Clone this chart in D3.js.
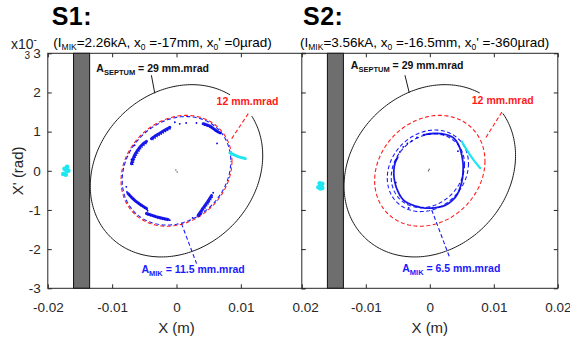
<!DOCTYPE html>
<html>
<head>
<meta charset="utf-8">
<script src="https://cdn.jsdelivr.net/npm/d3@7/dist/d3.min.js"></script>
<style>
  body { margin: 0; background: #fff; }
  text { font-family: "Liberation Sans", Arial, sans-serif; }
</style>
</head>
<body>
<div id="chart"></div>
<script>
// axis ticks (x in mm, x' in mrad)
const xTicks = [-20, -10, 0, 10, 20];
const xTickLabels = ["-0.02", "-0.01", "0", "0.01", "0.02"];
const yTicks = [-3, -2, -1, 0, 1, 2, 3];
const yTickLabels = ["-3", "-2", "-1", "0", "1", "2", "3"];

// panel titles
const panelNames = ["S1:", "S2:"];
const mikCurrent = ["2.26kA", "3.56kA"];
const injX = ["-17mm", "-16.5mm"];
const injXp = ["0µrad", "-360µrad"];

// Twiss at the septum, emittances (mm.mrad)
const betaX = 6.19;
const alphaX = -0.18;
const septumEmit = 29;
const acceptEmit = 12;
const mikEmit = [[11.5], [6.5, 5.3]];
const mikCentre = [[0, 0], [-0.3, 0]];
const mikText = ["11.5", "6.5"];
const septumGap = [[-0.90, -0.51], [-0.95, -0.55]]; // phase gap left for the label
const septumBlade = [-16, -13.5]; // mm

// injected beam (cyan)
const injBlob = [
  [[-17.6, -0.08], [-17.4, 0.05], [-17.0, 0.1], [-16.8, 0.0], [-17.2, -0.1], [-17.1, 0.0]],
  [[-17.4, -0.42], [-17.2, -0.32], [-16.8, -0.33], [-16.8, -0.44], [-17.1, -0.45], [-17.0, -0.38]]
];
const injStreak = [
  [[8.3, 0.46], [8.8, 0.42], [9.3, 0.38], [9.8, 0.35], [10.3, 0.33], [10.7, 0.31]],
  [[5.0, 0.75], [5.6, 0.58], [6.3, 0.40], [7.0, 0.24], [7.86, 0.07]]
];

// stored beam (blue) after the kick
const storedStreaks = [
  [
    [[-3.9, 0.82], [-3.2, 0.90], [-2.6, 0.96], [-1.8, 1.04], [-1.04, 1.11]],
    [[-7.0, 0.18], [-6.5, 0.40], [-5.56, 0.63], [-4.67, 0.75]],
    [[4.14, 1.20], [5.19, 1.14], [6.12, 1.03], [6.74, 0.97]],
    [[-7.54, -0.58], [-6.65, -0.73], [-5.72, -0.85], [-4.67, -0.96]],
    [[-4.67, -1.09], [-3.38, -1.16], [-2.29, -1.21], [-1.31, -1.24]],
    [[3.36, -1.14], [4.10, -0.96], [4.88, -0.78], [5.45, -0.63]]
  ],
  [
    [[-1.0, 0.92], [0.3, 0.95], [1.6, 0.95], [3.0, 0.90], [3.95, 0.80], [4.7, 0.58], [5.15, 0.25],
     [5.2, 0.0], [5.0, -0.28], [4.3, -0.60], [3.2, -0.80], [2.1, -0.90], [0.5, -0.95], [-1.2, -0.94],
     [-2.6, -0.88], [-4.1, -0.75], [-5.1, -0.48], [-5.6, -0.15], [-5.5, 0.15], [-5.0, 0.35]]
  ]
];
const storedDots = [
  [[-0.26, 1.24], [0.5, 1.2], [1.5, 1.22], [3.1, 1.22], [-7.8, -0.41], [-7.7, -0.54], [5.7, -0.56],
   [-6.5, 0.65], [-1.04, -1.26], [-7.0, 0.29], [-4.5, -1.02], [6.3, 0.7], [2.5, -1.2]],
  [[-4.67, 0.48], [-5.18, 0.31], [-4.15, 0.61], [-2.83, 0.76], [-3.5, 0.7], [-2.0, 0.85],
   [-5.3, -0.3], [4.4, 0.5], [-3.3, -0.95]]
];
const centreDots = [[[0.1, -0.03], [-0.1, 0.02]], [[-0.2, 0.0], [-0.1, 0.04]]];

// annotation anchors in data units
const septumLabelAt = [[-12.46, 2.52], [-12.34, 2.59]];
const septumPointer = [[[-3.9, 2.44], [-3.38, 1.98]], [[-3.88, 2.44], [-3.21, 1.99]]];
const acceptLabelAt = [[6.23, 1.67], [6.56, 1.70]];
const acceptPointer = [[[11.15, 1.46], [8.41, 0.78]], [[11.26, 1.50], [8.65, 0.82]]];
const mikLabelAt = [[-5.45, -2.61], [-4.31, -2.59]];
const mikPointer = [[[0.78, -1.35], [3.12, -2.37]], [[0.30, -1.0], [3.16, -2.24]]];

const axisColor = "#262626";
const red = "#ff1a1a";
const blue = "#1a1aff";
const dotBlue = "#0000e6";
const cyan = "#1ee6f0";

const svg = d3.select("#chart").append("svg")
  .attr("width", 570)
  .attr("height", 340);

const panelBox = [[47.8, 305.2], [301.8, 557.8]];
const plotTop = 53.3, plotBottom = 288.3;

function twissEllipse(eps, c, p0, p1) {
  const n = 240;
  return d3.range(n + 1).map(k => {
    const p = p0 + (p1 - p0) * k / n;
    return [c[0] + Math.sqrt(eps * betaX) * Math.cos(p),
            c[1] - Math.sqrt(eps / betaX) * (alphaX * Math.cos(p) + Math.sin(p))];
  });
}

panelNames.forEach((name, i) => {
  const x = d3.scaleLinear().domain([-20, 20]).range(panelBox[i]);
  const y = d3.scaleLinear().domain([-3, 3]).range([plotBottom, plotTop]);
  const line = d3.line().x(d => x(d[0])).y(d => y(d[1]));
  const smooth = d3.line().x(d => x(d[0])).y(d => y(d[1])).curve(d3.curveCardinal);

  const g = svg.append("g");

  g.append("rect")
    .attr("x", x(-20)).attr("y", plotTop)
    .attr("width", x(20) - x(-20)).attr("height", plotBottom - plotTop)
    .attr("fill", "#fff");

  // septum blade
  g.append("rect")
    .attr("x", x(septumBlade[0])).attr("y", plotTop)
    .attr("width", x(septumBlade[1]) - x(septumBlade[0]))
    .attr("height", plotBottom - plotTop)
    .attr("fill", "#6e6e6e")
    .attr("stroke", "#111").attr("stroke-width", 1);

  // septum acceptance
  g.append("path")
    .attr("d", line(twissEllipse(septumEmit, [0, 0], septumGap[i][1], 2 * Math.PI + septumGap[i][0])))
    .attr("fill", "none").attr("stroke", "#1a1a1a").attr("stroke-width", 1);

  // 12 mm.mrad
  g.append("path")
    .attr("d", line(twissEllipse(acceptEmit, [0, 0], 0, 2 * Math.PI)))
    .attr("fill", "none").attr("stroke", red).attr("stroke-width", 1.1)
    .attr("stroke-dasharray", "4 2.5");

  // MIK acceptance
  mikEmit[i].forEach(e => {
    g.append("path")
      .attr("d", line(twissEllipse(e, mikCentre[i], 0, 2 * Math.PI)))
      .attr("fill", "none").attr("stroke", blue).attr("stroke-width", 1.1)
      .attr("stroke-dasharray", "4 2.5")
      .attr("stroke-dashoffset", i === 0 ? 3.25 : 0);
  });

  // stored beam: speckled streaks
  storedStreaks[i].forEach(s => {
    g.append("path")
      .attr("d", smooth(s))
      .attr("fill", "none").attr("stroke", dotBlue)
      .attr("stroke-width", i === 0 ? 3 : 1.8)
      .attr("stroke-dasharray", i === 0 ? "2.5 0.8" : "3 0.6")
      .attr("stroke-linecap", "round")
      .attr("opacity", 0.9);
    if (i === 0) {
      g.append("path")
        .attr("d", smooth(s))
        .attr("fill", "none").attr("stroke", dotBlue)
        .attr("stroke-width", 1.4)
        .attr("transform", "translate(1.2,1.2)")
        .attr("stroke-dasharray", "1 1.5");
    }
  });

  g.selectAll(null).data(storedDots[i]).join("circle")
    .attr("cx", d => x(d[0])).attr("cy", d => y(d[1]))
    .attr("r", 0.9).attr("fill", dotBlue);

  g.selectAll(null).data(centreDots[i]).join("circle")
    .attr("cx", d => x(d[0])).attr("cy", d => y(d[1]))
    .attr("r", 0.7).attr("fill", "#555");

  // injected beam
  g.append("path")
    .attr("d", line(injStreak[i]))
    .attr("fill", "none").attr("stroke", cyan)
    .attr("stroke-width", i === 0 ? 3 : 2.2).attr("stroke-linecap", "round");
  g.selectAll(null).data(injBlob[i]).join("circle")
    .attr("cx", d => x(d[0])).attr("cy", d => y(d[1]))
    .attr("r", 2.3).attr("fill", cyan);

  // annotations
  g.append("path").attr("d", line(septumPointer[i]))
    .attr("stroke", "#1a1a1a").attr("stroke-width", 1);
  g.append("path").attr("d", line(acceptPointer[i]))
    .attr("stroke", red).attr("stroke-width", 1.1).attr("stroke-dasharray", "4 2.5");
  g.append("path").attr("d", line(mikPointer[i]))
    .attr("stroke", blue).attr("stroke-width", 1.1).attr("stroke-dasharray", "4 2.5");

  const t1 = g.append("text")
    .attr("x", x(septumLabelAt[i][0])).attr("y", y(septumLabelAt[i][1]))
    .attr("font-size", "10.5px").attr("font-weight", "bold").attr("fill", "#111");
  t1.append("tspan").text("A");
  t1.append("tspan").attr("font-size", "7.5px").attr("dy", 2.5).text("SEPTUM");
  t1.append("tspan").attr("dy", -2.5).text(" = " + septumEmit + " mm.mrad");

  g.append("text")
    .attr("x", x(acceptLabelAt[i][0])).attr("y", y(acceptLabelAt[i][1]))
    .attr("font-size", "10.5px").attr("font-weight", "bold").attr("fill", red)
    .text(acceptEmit + " mm.mrad");

  const t3 = g.append("text")
    .attr("x", x(mikLabelAt[i][0])).attr("y", y(mikLabelAt[i][1]))
    .attr("font-size", "10.5px").attr("font-weight", "bold").attr("fill", blue);
  t3.append("tspan").text("A");
  t3.append("tspan").attr("font-size", "7.5px").attr("dy", 2.5).text("MIK");
  t3.append("tspan").attr("dy", -2.5).text(" = " + mikText[i] + " mm.mrad");

  // axes, ticks inward on all four sides
  const styleAxis = sel => {
    sel.select(".domain").remove();
    sel.selectAll("line").attr("stroke", axisColor);
    sel.selectAll("text").attr("fill", axisColor)
      .attr("font-size", "13.5px")
      .attr("font-family", '"Liberation Sans", Arial, sans-serif');
  };

  g.append("g").attr("transform", `translate(0,${plotBottom})`)
    .call(d3.axisBottom(x).tickValues(xTicks)
      .tickFormat((d, k) => (i === 1 && k === 0) ? "" : xTickLabels[k])
      .tickSizeInner(-4).tickSizeOuter(0).tickPadding(14))
    .call(styleAxis);
  g.append("g").attr("transform", `translate(0,${plotTop})`)
    .call(d3.axisTop(x).tickValues(xTicks).tickFormat("")
      .tickSizeInner(-4).tickSizeOuter(0))
    .call(styleAxis);
  g.append("g").attr("transform", `translate(${x(-20)},0)`)
    .call(d3.axisLeft(y).tickValues(yTicks)
      .tickFormat((d, k) => i === 0 ? yTickLabels[k] : "")
      .tickSizeInner(-4).tickSizeOuter(0).tickPadding(7))
    .call(styleAxis);
  g.append("g").attr("transform", `translate(${x(20)},0)`)
    .call(d3.axisRight(y).tickValues(yTicks).tickFormat("")
      .tickSizeInner(-4).tickSizeOuter(0))
    .call(styleAxis);

  g.append("rect")
    .attr("x", x(-20)).attr("y", plotTop)
    .attr("width", x(20) - x(-20)).attr("height", plotBottom - plotTop)
    .attr("fill", "none").attr("stroke", axisColor).attr("stroke-width", 1);

  g.append("text")
    .attr("x", x(0)).attr("y", 333)
    .attr("text-anchor", "middle").attr("font-size", "15px").attr("fill", axisColor)
    .text("X (m)");

  // titles
  g.append("text")
    .attr("x", i === 0 ? 51.7 : 303).attr("y", 25)
    .attr("font-size", "25px").attr("font-weight", "bold").attr("fill", "#000")
    .attr("letter-spacing", "0.5px")
    .text(name);

  const sub = g.append("text")
    .attr("x", i === 0 ? 53.3 : 300).attr("y", 46.5)
    .attr("font-size", "13.5px").attr("fill", "#000");
  sub.append("tspan").text("(I");
  sub.append("tspan").attr("font-size", "8.5px").attr("dy", 3).text("MIK");
  sub.append("tspan").attr("dy", -3).text("=" + mikCurrent[i] + ", x");
  sub.append("tspan").attr("font-size", "8.5px").attr("dy", 3).text("0");
  sub.append("tspan").attr("dy", -3).text(" =" + injX[i] + ", x");
  sub.append("tspan").attr("font-size", "8.5px").attr("dy", 3).text("0");
  sub.append("tspan").attr("dy", -3).text("' =" + injXp[i] + ")");
});

// y label and exponent
svg.append("text")
  .attr("transform", `translate(23,${(plotTop + plotBottom) / 2}) rotate(-90)`)
  .attr("text-anchor", "middle").attr("font-size", "15px").attr("fill", axisColor)
  .text("X' (rad)");

const expo = svg.append("text")
  .attr("x", 11).attr("y", 48.5)
  .attr("font-size", "14px").attr("fill", axisColor);
expo.append("tspan").text("x10");
expo.append("tspan").attr("font-size", "10px").attr("dy", -6).text("-");
svg.append("text")
  .attr("x", 24.5).attr("y", 59)
  .attr("font-size", "10px").attr("fill", axisColor)
  .text("3");
</script>
</body>
</html>
